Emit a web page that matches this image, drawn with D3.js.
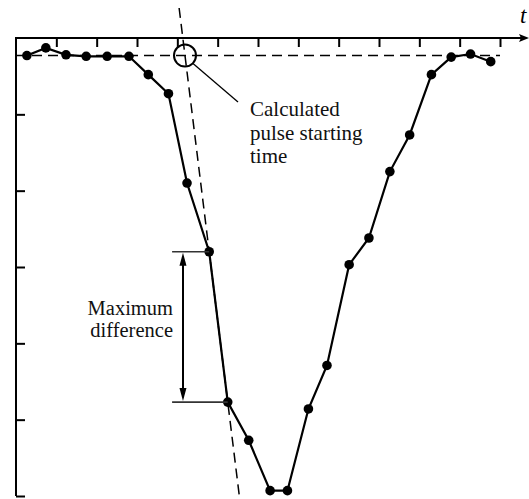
<!DOCTYPE html>
<html><head><meta charset="utf-8">
<script src="https://cdn.jsdelivr.net/npm/d3@7"></script>
<style>body{margin:0;background:#fff}svg{display:block}text{font-family:"Liberation Serif","Times New Roman","DejaVu Serif",serif}</style>
</head><body>
<script>
// time samples (in tick units) and signal values (in tick units, 0 = top axis)
const times = [0.27,0.74,1.24,1.74,2.26,2.80,3.28,3.78,4.24,4.79,5.25,5.77,6.30,6.73,7.25,7.71,8.26,8.75,9.27,9.76,10.30,10.79,11.27,11.77];
const values = [-0.23,-0.13,-0.22,-0.24,-0.24,-0.24,-0.48,-0.73,-1.90,-2.80,-4.77,-5.27,-5.93,-5.93,-4.86,-4.29,-2.97,-2.62,-1.75,-1.27,-0.48,-0.25,-0.21,-0.31];
const baseline = -0.23;
const xTicks = [1,2,3,4,5,6,7,8,9,10,11,12];
const yTicks = [-1,-2,-3,-4,-5,-6];
const startLabel = ["Calculated","pulse starting","time"];
const diffLabel = ["Maximum","difference"];

const W=529,H=499;
const svg=d3.select("body").append("svg").attr("width",W).attr("height",H);
const x=d3.scaleLinear().domain([0,12]).range([16,500]);
const y=d3.scaleLinear().domain([0,-6]).range([38,496]);

// axes
const xa=svg.append("g").attr("transform",`translate(0,${y(0)})`)
  .call(d3.axisTop(x).tickValues(xTicks).tickSize(-9).tickSizeOuter(0).tickFormat(""));
xa.select(".domain").remove();
xa.selectAll("line").attr("stroke","#000").attr("stroke-width",2);
const ya=svg.append("g").attr("transform",`translate(${x(0)},0)`)
  .call(d3.axisLeft(y).tickValues(yTicks).tickSize(-9).tickSizeOuter(0).tickFormat(""));
ya.select(".domain").remove();
ya.selectAll("line").attr("stroke","#000").attr("stroke-width",2);
svg.append("line").attr("x1",x(0)).attr("x2",x(0)).attr("y1",y(0)-1).attr("y2",y(-6)).attr("stroke","#000").attr("stroke-width",2);
svg.append("line").attr("x1",x(0)-1).attr("x2",521).attr("y1",y(0)).attr("y2",y(0)).attr("stroke","#000").attr("stroke-width",2);
svg.append("path").attr("d",`M529,${y(0)} L519,${y(0)-4} L521,${y(0)} L519,${y(0)+4} Z`).attr("fill","#000");
svg.append("text").attr("x",520).attr("y",23).attr("font-style","italic")
  .attr("font-size",23).text("t");

// baseline dashed
svg.append("line").attr("x1",x(0)).attr("x2",x(12)).attr("y1",y(baseline)).attr("y2",y(baseline))
  .attr("stroke","#000").attr("stroke-width",1.5).attr("stroke-dasharray","10,6");

// steep dashed tangent through points 9 and 10
const i1=9,i2=10;
const slope=(times[i2]-times[i1])/(values[i2]-values[i1]);
const tAt=v=>times[i1]+slope*(v-values[i1]);
const vTop=y.invert(8), vBot=-6;
svg.append("line").attr("x1",x(tAt(vTop))).attr("y1",y(vTop)).attr("x2",x(tAt(vBot))).attr("y2",y(vBot))
  .attr("stroke","#000").attr("stroke-width",1.5).attr("stroke-dasharray","10,6");

// circle at intersection
const cx=x(tAt(baseline)), cy=y(baseline);
svg.append("circle").attr("cx",cx).attr("cy",cy).attr("r",11).attr("fill","none").attr("stroke","#000").attr("stroke-width",2);
svg.append("line").attr("x1",cx+8).attr("y1",cy+8).attr("x2",238).attr("y2",102).attr("stroke","#000").attr("stroke-width",1.3);

// data line
svg.append("path").datum(times.map((t,i)=>[t,values[i]]))
  .attr("d",d3.line().x(d=>x(d[0])).y(d=>y(d[1])))
  .attr("fill","none").attr("stroke","#000").attr("stroke-width",2.2);
svg.selectAll("circle.pt").data(times).join("circle").attr("class","pt")
  .attr("cx",d=>x(d)).attr("cy",(d,i)=>y(values[i])).attr("r",4.8).attr("fill","#000");

// max difference markers
const ax=x(4.14), hx=x(3.87);
[i1,i2].forEach(i=>{
  svg.append("line").attr("x1",hx).attr("x2",x(times[i])).attr("y1",y(values[i])).attr("y2",y(values[i]))
    .attr("stroke","#333").attr("stroke-width",1.6);
});
const yA=y(values[i1])+1, yB=y(values[i2])-1;
svg.append("line").attr("x1",ax).attr("x2",ax).attr("y1",yA+8).attr("y2",yB-8).attr("stroke","#000").attr("stroke-width",2);
svg.append("path").attr("d",`M${ax},${yA} L${ax-3.5},${yA+13} L${ax+3.5},${yA+13} Z`).attr("fill","#000");
svg.append("path").attr("d",`M${ax},${yB} L${ax-3.5},${yB-13} L${ax+3.5},${yB-13} Z`).attr("fill","#000");

// labels
svg.append("text").attr("font-size",21).attr("fill","#111")
  .selectAll("tspan").data(startLabel).join("tspan").attr("x",250).attr("y",(d,i)=>116+i*23.5).text(d=>d);
svg.append("text").attr("font-size",20.5).attr("fill","#111").attr("text-anchor","end")
  .selectAll("tspan").data(diffLabel).join("tspan").attr("x",173).attr("y",(d,i)=>315+i*22).text(d=>d);
</script>
</body></html>
